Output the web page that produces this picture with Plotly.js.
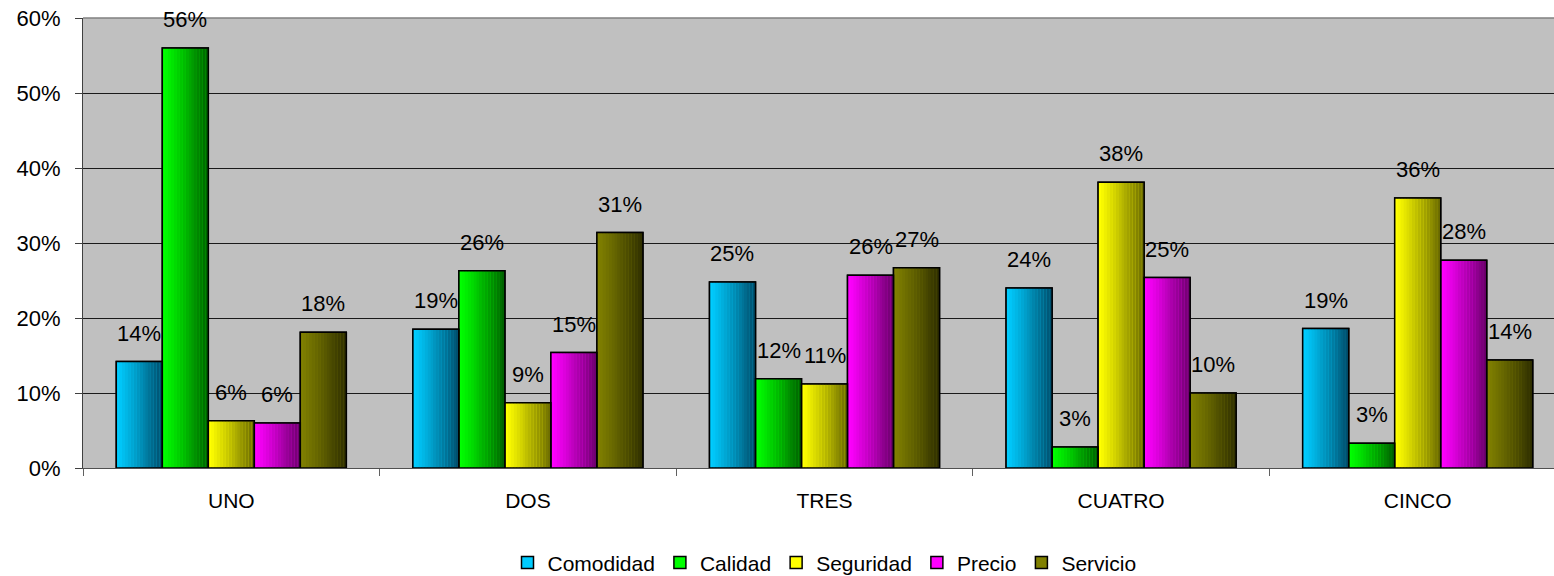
<!DOCTYPE html>
<html>
<head>
<meta charset="utf-8">
<script src="https://cdn.plot.ly/plotly-3.0.1.min.js"></script>
<style>
html,body{margin:0;padding:0;overflow:hidden;background:#fff;}
#chart{width:1576px;height:610px;}
</style>
</head>
<body>
<div id="chart"></div>
<script>
// ---- data ----
const categories = ["UNO", "DOS", "TRES", "CUATRO", "CINCO"];
const seriesNames = ["Comodidad", "Calidad", "Seguridad", "Precio", "Servicio"];
const comodidad = [14.2, 18.5, 24.8, 24.0, 18.6];
const calidad   = [56.0, 26.3, 11.9, 2.8, 3.3];
const seguridad = [6.3, 8.7, 11.2, 38.1, 36.0];
const precio    = [6.0, 15.4, 25.7, 25.4, 27.7];
const servicio  = [18.1, 31.4, 26.7, 10.0, 14.4];
const yTickVals = [0, 10, 20, 30, 40, 50, 60];
const yTickText = ["0%", "10%", "20%", "30%", "40%", "50%", "60%"];

// ---- styling ----
const seriesValues = [comodidad, calidad, seguridad, precio, servicio];
const brightColors = [[0,204,255],[0,255,0],[255,255,0],[255,0,255],[128,128,0]];
const darkColors   = [[0,80,110],[0,100,0],[110,110,0],[110,0,110],[48,48,0]];
const FONT = '"Liberation Sans", Arial, sans-serif';
const w = 0.1551;          // bar width in category units
const groupW = 5 * w;
const N = 16;              // gradient stripes per bar

function rgb(c){ return 'rgb(' + c.map(Math.round).join(',') + ')'; }
function mix(a, b, t){ return [0,1,2].map(j => a[j] + (b[j]-a[j]) * t); }

const traces = [];
// legend traces (solid, underneath)
seriesNames.forEach((name, i) => {
  traces.push({
    type: 'bar', name: name, x: categories, y: seriesValues[i],
    width: w, offset: -groupW/2 + i*w,
    marker: {color: rgb(brightColors[i]), line: {color: '#000', width: 1.5}},
    showlegend: true, hoverinfo: 'skip'
  });
});
// gradient stripes
seriesNames.forEach((name, i) => {
  for (let k = 0; k < N; k++) {
    const t = Math.pow(k / (N - 1), 1.1);
    traces.push({
      type: 'bar', x: categories, y: seriesValues[i],
      width: w / N + 0.0004, offset: -groupW/2 + i*w + k*w/N,
      marker: {color: rgb(mix(brightColors[i], darkColors[i], t)), line: {width: 0}},
      showlegend: false, hoverinfo: 'skip'
    });
  }
});
// outlines
seriesNames.forEach((name, i) => {
  traces.push({
    type: 'bar', x: categories, y: seriesValues[i],
    width: w, offset: -groupW/2 + i*w,
    marker: {color: 'rgba(0,0,0,0)', line: {color: '#000', width: 1.5}},
    showlegend: false, hoverinfo: 'skip'
  });
});

// value labels
const annotations = [];
seriesValues.forEach((vals, i) => {
  vals.forEach((v, c) => {
    annotations.push({
      xref: 'x', yref: 'y', x: c - groupW/2 + i*w + w/2, y: v,
      text: Math.round(v) + '%', showarrow: false,
      yanchor: 'bottom', yshift: 14,
      font: {family: FONT, size: 22, color: '#000'}
    });
  });
});

const layout = {
  width: 1576, height: 610,
  margin: {l: 83, r: 10, t: 18, b: 142},
  paper_bgcolor: '#ffffff', plot_bgcolor: '#c0c0c0',
  barmode: 'overlay',
  font: {family: FONT, size: 22, color: '#000'},
  showlegend: true,
  legend: {
    orientation: 'h', x: 0.5, xanchor: 'center', y: -0.211, yanchor: 'middle',
    font: {family: FONT, size: 21, color: '#000'},
    itemwidth: 30, tracegroupgap: 0
  },
  xaxis: {
    type: 'category', range: [-0.5, 4.5],
    tickson: 'boundaries', ticks: 'outside', ticklen: 7, tickcolor: '#606060',
    showline: true, linecolor: '#505050', linewidth: 1,
    showgrid: false, zeroline: false,
    tickfont: {family: FONT, size: 21, color: '#000'},
    ticklabelstandoff: 14
  },
  yaxis: {
    range: [0, 60], tickvals: yTickVals, ticktext: yTickText,
    ticks: 'outside', ticklen: 7, tickcolor: '#404040',
    showline: true, linecolor: '#404040', linewidth: 1,
    showgrid: true, gridcolor: '#1a1a1a', gridwidth: 1,
    zeroline: false,
    tickfont: {family: FONT, size: 22, color: '#000'},
    ticklabelstandoff: 10
  },
  shapes: [{
    type: 'line', xref: 'paper', yref: 'paper', x0: 0, x1: 1, y0: 1, y1: 1,
    line: {color: '#808080', width: 1.5}, layer: 'above'
  }],
  annotations: annotations,
  hovermode: false
};

Plotly.newPlot('chart', traces, layout, {displayModeBar: false, staticPlot: true});
</script>
</body>
</html>
